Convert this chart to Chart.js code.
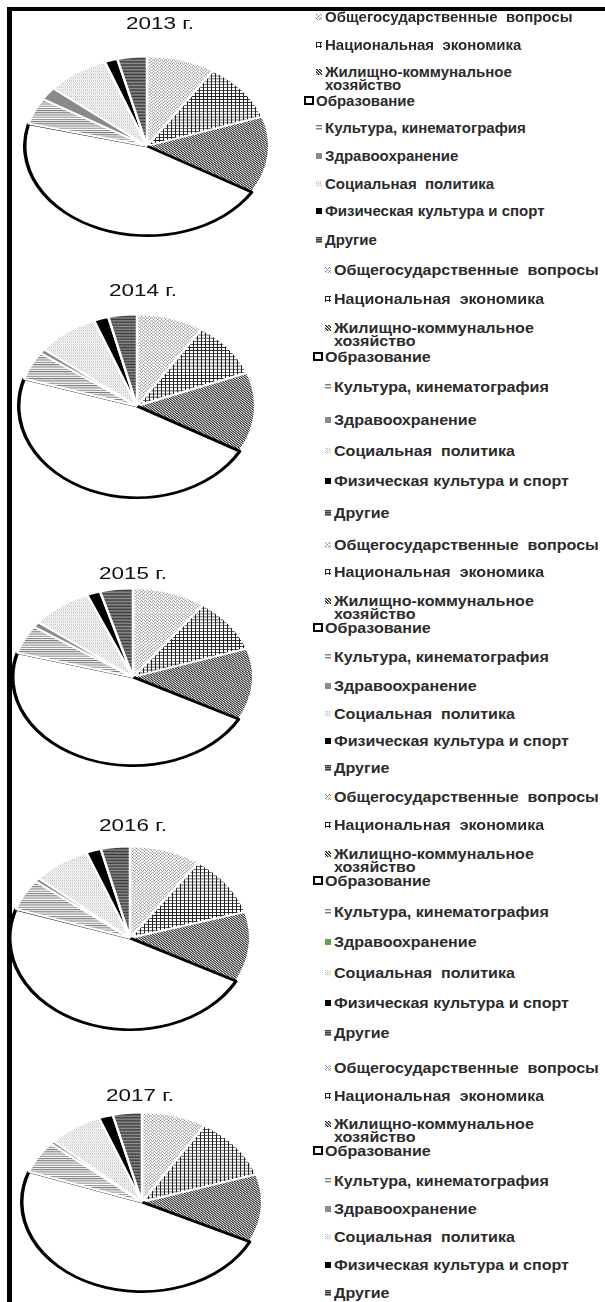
<!DOCTYPE html>
<html>
<head>
<meta charset="utf-8">
<script src="https://cdn.jsdelivr.net/npm/chart.js@4/dist/chart.umd.min.js"></script>
<style>
  body { margin: 0; background: #fff; width: 605px; height: 1302px; position: relative; overflow: hidden;
         font-family: "Liberation Sans", Arial, sans-serif; }
  .frameL { position: absolute; left: 7px; top: 7px; width: 5px; height: 1295px; background: #000; }
  .frameT { position: absolute; left: 7px; top: 7px; width: 598px; height: 4px; background: #000; }
  canvas.pie { position: absolute; }
  .title { position: absolute; font-size: 17px; color: #111; white-space: nowrap;
           transform: translate(-50%, -50%) scaleX(1.32); }
  .item { position: absolute; font-size: 15px; font-weight: bold; line-height: 13px; color: #2b2b2b;
          white-space: pre; transform-origin: left center; }
  .mark { position: absolute; width: 6px; height: 6px; }
  .mark.box { width: 6px; height: 5px; border: 2px solid #000; background: #fff; }
</style>
</head>
<body>
<div class="frameL"></div>
<div class="frameT"></div>
<script>
const categories = [
  "Общегосударственные  вопросы",
  "Национальная  экономика",
  "Жилищно-коммунальное\nхозяйство",
  "Образование",
  "Культура, кинематография",
  "Здравоохранение",
  "Социальная  политика",
  "Физическая культура и спорт",
  "Другие"
];
const years = ["2013 г.", "2014 г.", "2015 г.", "2016 г.", "2017 г."];

// shares of expenses, %
const share2013 = [9.1, 10.6, 13.9, 45.4, 4.8, 2.3, 8.3, 1.7, 3.9];
const share2014 = [9.2, 9.9, 14.1, 46.6, 5.0, 0.8, 8.5, 2.0, 3.9];
const share2015 = [9.9, 9.9, 13.1, 46.5, 5.2, 1.0, 8.2, 1.8, 4.4];
const share2016 = [9.6, 10.8, 12.4, 47.3, 5.5, 0.7, 7.8, 2.0, 3.9];
const share2017 = [8.7, 11.3, 12.3, 48.2, 5.8, 0.6, 7.3, 1.9, 3.9];
const shares = [share2013, share2014, share2015, share2016, share2017];

// layout of each panel
const panels = [
  { cx: 147, cy: 146, rx: 120, ry: 88, tx: 160, ty: 24, lx: 325, sx: 1.0, legY: [17, 45, 72, 101, 128, 156, 184, 211, 240] },
  { cx: 137, cy: 406, rx: 116, ry: 90, tx: 143, ty: 291, lx: 334, sx: 1.07, legY: [270, 299, 328, 357, 387, 420, 451, 481, 513] },
  { cx: 133, cy: 677, rx: 118, ry: 87, tx: 133, ty: 574, lx: 334, sx: 1.07, legY: [545, 572, 601, 628, 657, 686, 714, 741, 768] },
  { cx: 130, cy: 938, rx: 118, ry: 90, tx: 133, ty: 826, lx: 334, sx: 1.07, legY: [797, 825, 854, 881, 912, 942, 973, 1003, 1033] },
  { cx: 142, cy: 1202, rx: 118, ry: 88, tx: 140, ty: 1096, lx: 334, sx: 1.07, legY: [1068, 1096, 1124, 1151, 1181, 1209, 1237, 1265, 1293] }
];

const tile = (size, draw) => {
  const c = document.createElement("canvas");
  c.width = size; c.height = size;
  const g = c.getContext("2d");
  g.fillStyle = "#fff";
  g.fillRect(0, 0, size, size);
  draw(g);
  return c;
};

const tiles = [
  // diagonal cross dots, light
  tile(4, (g) => { g.fillStyle = "#7a7a7a"; g.fillRect(0, 0, 1, 1); g.fillRect(2, 2, 1, 1); g.fillStyle = "#a8a8a8"; g.fillRect(1, 1, 1, 1); g.fillRect(3, 3, 1, 1); g.fillRect(3, 1, 1, 1); g.fillRect(1, 3, 1, 1); }),
  // square grid
  tile(4, (g) => { g.fillStyle = "#222"; g.fillRect(0, 0, 4, 1); g.fillRect(0, 0, 1, 4); }),
  // diagonal lines
  tile(3, (g) => { g.fillStyle = "#222"; g.fillRect(0, 0, 1, 1); g.fillRect(1, 1, 1, 1); g.fillRect(2, 2, 1, 1); g.fillStyle = "#777"; g.fillRect(1, 0, 1, 1); g.fillRect(2, 1, 1, 1); g.fillRect(0, 2, 1, 1); }),
  tile(2, () => {}),
  // horizontal light lines
  tile(3, (g) => { g.fillStyle = "#7c7c7c"; g.fillRect(0, 0, 3, 1); g.fillStyle = "#c8c8c8"; g.fillRect(0, 1, 3, 1); }),
  tile(2, (g) => { g.fillStyle = "#8a8a8a"; g.fillRect(0, 0, 2, 2); }),
  // fine dots
  tile(2, (g) => { g.fillStyle = "#bdbdbd"; g.fillRect(0, 0, 1, 1); g.fillStyle = "#dedede"; g.fillRect(1, 1, 1, 1); }),
  tile(2, (g) => { g.fillStyle = "#000"; g.fillRect(0, 0, 2, 2); }),
  // dense horizontal dark lines
  tile(2, (g) => { g.fillStyle = "#3a3a3a"; g.fillRect(0, 0, 2, 1); g.fillStyle = "#909090"; g.fillRect(0, 1, 2, 1); })
];

const squash = {
  id: "squash",
  beforeDatasetsDraw(chart, args, opts) {
    const { ctx, chartArea: a } = chart;
    const cx = (a.left + a.right) / 2;
    const cy = (a.top + a.bottom) / 2;
    ctx.save();
    ctx.translate(cx, cy);
    ctx.scale(1, opts.k);
    ctx.translate(-cx, -cy);
  },
  afterDatasetsDraw(chart) {
    chart.ctx.restore();
  }
};

const put = (html, cls, x, y) => {
  const d = document.createElement("div");
  d.className = cls;
  d.innerHTML = html;
  d.style.left = x + "px";
  d.style.top = y + "px";
  document.body.appendChild(d);
  return d;
};

panels.forEach((p, i) => {
  const pad = 4;
  const size = 2 * (p.rx + pad);
  const cv = document.createElement("canvas");
  cv.className = "pie";
  cv.width = size; cv.height = size;
  cv.style.left = p.cx - size / 2 + "px";
  cv.style.top = p.cy - size / 2 + "px";
  document.body.appendChild(cv);

  const ctx = cv.getContext("2d");
  const fills = tiles.map((t) => ctx.createPattern(t, "repeat"));
  fills[3] = "#fff";
  fills[7] = "#000";

  new Chart(cv, {
    type: "pie",
    data: {
      labels: categories,
      datasets: [{
        data: shares[i],
        backgroundColor: fills,
        borderColor: categories.map((c, j) => (j === 3 ? "#000" : "#fff")),
        borderWidth: categories.map((c, j) => (j === 3 ? 3.5 : 2.5))
      }]
    },
    options: {
      responsive: false,
      animation: false,
      events: [],
      layout: { padding: 0 },
      plugins: { legend: { display: false }, tooltip: { enabled: false }, squash: { k: p.ry / p.rx } }
    },
    plugins: [squash]
  });

  put(years[i], "title", p.tx, p.ty);

  categories.forEach((c, j) => {
    const y = p.legY[j];
    const item = put(c, "item", p.lx, y - 7);
    item.style.transform = `scaleX(${p.sx})`;
    if (j === 3) {
      item.style.left = p.lx - 9 + "px";
      put("", "mark box", p.lx - 21, y - 5);
    } else {
      const m = put("", "mark", p.lx - 9, y - 3);
      if (i === 3 && j === 5) m.style.background = "#5aa845";
      else m.style.backgroundImage = `url(${tiles[j].toDataURL()})`;
    }
  });
});
</script>
</body>
</html>
